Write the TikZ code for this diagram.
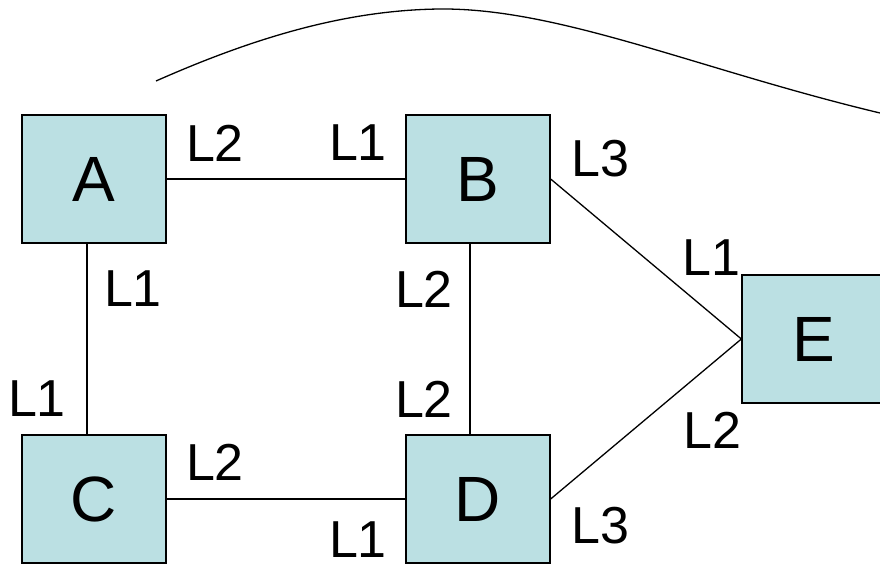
\documentclass[tikz,border=0pt]{standalone}
\usepackage{fontspec}
\setmainfont{Liberation Sans}
\usepackage{xcolor}
\definecolor{boxfill}{HTML}{BBE0E3}

\begin{document}
\begin{tikzpicture}[x=1pt, y=-1pt,
  box/.style={rectangle, draw=black, line width=1.3pt, fill=boxfill, minimum width=144pt, minimum height=128pt, inner sep=0pt, font=\fontsize{64}{64}\selectfont},
  lbl/.style={inner sep=0pt, anchor=center, font=\fontsize{52}{52}\selectfont},
  link/.style={line width=1.3pt}]
  \clip (0,0) rectangle (880,564);
  \node[box] (A) at (94,179) {A};
  \node[box] (B) at (478,179) {B};
  \node[box] (C) at (94,499) {C};
  \node[box] (D) at (478,499) {D};
  \node[box] (E) at (814,339) {E};

  \draw[link] (A) -- (B);
  \draw[link] (C) -- (D);
  \draw[link] ([xshift=-7pt]A.south) -- ([xshift=-7pt]C.north);
  \draw[link] ([xshift=-8pt]B.south) -- ([xshift=-8pt]D.north);
  \draw[link] (B.east) -- (E.west);
  \draw[link] (D.east) -- (E.west);

  \node[lbl] (ab2) at (215,143) {L2};
  \node[lbl] (ab1) at (358,143) {L1};
  \node[lbl] (be3) at (600,159) {L3};
  \node[lbl] (ac1) at (133,289) {L1};
  \node[lbl] (bd2) at (424,289) {L2};
  \node[lbl] (eb1) at (711,258) {L1};
  \node[lbl] (ca1) at (37,399) {L1};
  \node[lbl] (db2) at (424,399) {L2};
  \node[lbl] (ed2) at (712,430) {L2};
  \node[lbl] (cd2) at (215,462) {L2};
  \node[lbl] (dc1) at (358,540) {L1};
  \node[lbl] (de3) at (600,526) {L3};

  % arc over the top
  \coordinate (arcstart) at (156,81);
  \coordinate (arctop) at (440,9);
  \coordinate (arcend) at (880,113);
  \draw[link] (arcstart) .. controls (260,35) and (350,10) .. (arctop)
    .. controls (560,8) and (700,70) .. (arcend);
\end{tikzpicture}
\end{document}
